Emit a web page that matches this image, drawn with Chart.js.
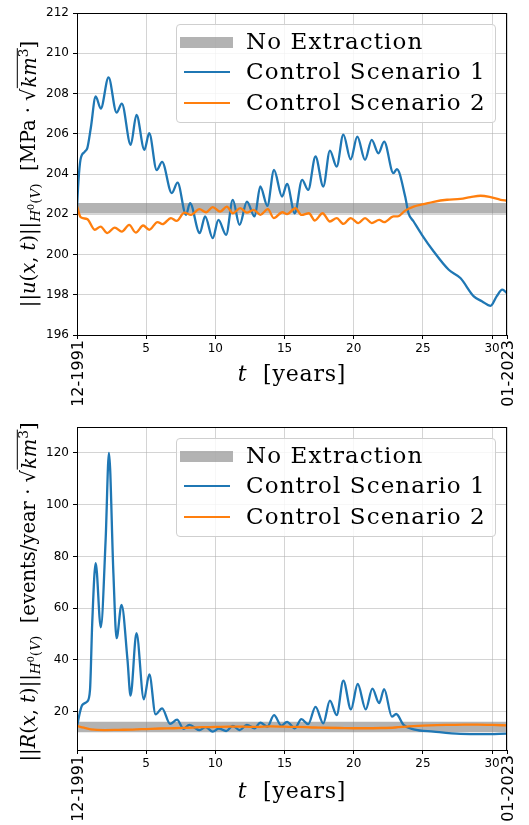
<!DOCTYPE html>
<html><head><meta charset="utf-8">
<script src="https://cdn.jsdelivr.net/npm/chart.js@4.4.0/dist/chart.umd.min.js"></script>
<style>
html,body{margin:0;padding:0;background:#fff;}
#wrap{position:relative;width:529px;height:825px;overflow:hidden;font-family:"DejaVu Serif",serif;}
.pane{position:absolute;left:0;width:529px;}
.legend{position:absolute;left:176px;width:320px;height:99px;border:1px solid #cfcfcf;border-radius:4px;background:rgba(255,255,255,0.8);box-sizing:border-box;}
.lrow{position:absolute;left:0;height:30px;width:100%;}
.lsym{position:absolute;}
.ltxt{position:absolute;left:69px;top:-1px;font-size:23px;line-height:30px;color:#000;white-space:nowrap;letter-spacing:1.1px;}
.ytitle{position:absolute;white-space:nowrap;font-size:19.5px;color:#000;transform:translate(-50%,-50%) rotate(-90deg);}
.xtitle{position:absolute;white-space:nowrap;font-size:22px;color:#000;transform:translate(-50%,-50%);letter-spacing:0.8px;}
.sqrt{border-top:1.2px solid #000;padding-left:1px;}
sub,sup{font-size:70%;}
</style>
</head><body>
<div id="wrap">
  <div class="pane" style="top:0;height:410px;"><canvas id="c1"></canvas></div>
  <div class="pane" style="top:410px;height:415px;"><canvas id="c2"></canvas></div>

  <div class="ytitle" style="left:29px;top:174px;">||<i>u</i>(<i>x</i>, <i>t</i>)||<sub><i>H</i><sup>0</sup>(<i>V</i>)</sub>&nbsp;&nbsp;[MPa · √<span class="sqrt"><i>km</i><sup>3</sup></span>]</div>
  <div class="ytitle" style="left:29px;top:592px;">||<i>R</i>(<i>x</i>, <i>t</i>)||<sub><i>H</i><sup>0</sup>(<i>V</i>)</sub>&nbsp;&nbsp;[events/year · √<span class="sqrt"><i>km</i><sup>3</sup></span>]</div>
  <div class="xtitle" style="left:292px;top:373px;"><i>t</i>&nbsp;&nbsp;[years]</div>
  <div class="xtitle" style="left:292px;top:790px;"><i>t</i>&nbsp;&nbsp;[years]</div>

  <div class="legend" style="top:24px;">
    <div class="lrow" style="top:2px;"><div class="lsym" style="left:3px;top:10px;width:53px;height:10.5px;background:rgba(128,128,128,0.6);"></div><div class="ltxt">No Extraction</div></div>
    <div class="lrow" style="top:32px;"><div class="lsym" style="left:7px;top:14px;width:46px;height:2.3px;background:#1f77b4;"></div><div class="ltxt">Control Scenario 1</div></div>
    <div class="lrow" style="top:62.5px;"><div class="lsym" style="left:7px;top:14px;width:46px;height:2.3px;background:#ff7f0e;"></div><div class="ltxt">Control Scenario 2</div></div>
  </div>
  <div class="legend" style="top:438px;">
    <div class="lrow" style="top:2px;"><div class="lsym" style="left:3px;top:10px;width:53px;height:10.5px;background:rgba(128,128,128,0.6);"></div><div class="ltxt">No Extraction</div></div>
    <div class="lrow" style="top:32px;"><div class="lsym" style="left:7px;top:14px;width:46px;height:2.3px;background:#1f77b4;"></div><div class="ltxt">Control Scenario 1</div></div>
    <div class="lrow" style="top:62.5px;"><div class="lsym" style="left:7px;top:14px;width:46px;height:2.3px;background:#ff7f0e;"></div><div class="ltxt">Control Scenario 2</div></div>
  </div>
</div>
<script>
// ---------- data ----------
const T_END = 31.08;
const X_TICKS = [0, 5, 10, 15, 20, 25, 30, T_END];
const DATE_LABELS = ["12-1991", "01-2023"];

// top panel: ||u(x,t)||
const TOP_Y_TICKS = [196, 198, 200, 202, 204, 206, 208, 210, 212];
const TOP_BAND = 202.3;
const topBlueT = [0,0.1,0.25,0.55,0.75,1.0,1.35,1.72,2.28,2.86,3.24,3.88,4.3,4.87,5.22,5.76,6.15,6.85,7.27,7.88,8.17,8.87,9.26,9.81,10.22,10.78,11.26,11.75,12.28,12.84,13.25,13.76,14.24,14.82,15.18,15.74,16.27,16.71,17.24,17.8,18.28,18.77,19.25,19.78,20.26,20.82,21.3,21.79,22.2,22.87,23.12,23.72,23.96,24.33,24.93,25.78,26.87,27.71,28.68,29.29,29.89,30.33,30.74,31.08];
const topBlueV = [202.3,203.6,204.7,205.1,205.3,206.3,207.85,207.25,208.8,207.05,207.5,205.45,206.94,205.2,206.03,204.2,204.6,203.05,203.57,201.97,202.55,201.06,201.89,200.81,201.72,200.98,202.71,201.47,202.63,201.89,203.38,202.42,204.2,202.88,203.51,202.05,203.71,203.21,204.87,203.38,205.16,204.37,205.96,204.73,205.86,204.7,205.7,205.03,205.61,204.04,204.24,202.88,202.05,201.64,200.98,200.15,199.24,198.83,197.92,197.67,197.45,197.92,198.25,198.08];
const topOrangeT = [0,0.26,0.74,1.28,1.71,2.19,2.73,3.24,3.77,4.25,4.78,5.22,5.82,6.18,6.79,7.2,7.76,8.24,8.85,9.33,9.81,10.35,10.83,11.26,11.8,12.28,12.77,13.25,13.8,14.22,14.85,15.18,15.79,16.23,16.76,17.19,17.75,18.28,18.77,19.25,19.78,20.34,20.82,21.3,21.84,22.2,22.88,23.17,23.72,24.33,25.05,25.78,26.75,27.71,28.44,29.17,29.89,30.62,31.08];
const topOrangeV = [202.4,201.86,201.76,201.23,201.39,201.06,201.34,201.14,201.47,201.09,201.44,201.23,201.61,201.51,201.81,201.67,202.08,201.97,202.25,202.1,202.35,202.13,202.38,202.05,202.3,202.08,202.22,201.97,202.25,201.81,202.1,202.01,202.3,201.97,202.05,201.69,202.05,201.64,201.81,201.52,201.81,201.56,201.81,201.56,201.72,201.61,201.89,201.89,202.18,202.38,202.5,202.62,202.72,202.76,202.85,202.92,202.85,202.72,202.68];

// bottom panel: ||R(x,t)||
const BOT_Y_TICKS = [20, 40, 60, 80, 100, 120];
const BOT_BAND = 14.1;
const botBlueT = [0,0.2,0.38,0.74,0.94,1.1,1.35,1.72,2.07,2.31,2.63,2.86,3.22,3.65,3.87,4.3,4.83,5.23,5.68,6.15,6.73,7.23,7.7,8.12,8.85,9.3,9.81,10.25,10.78,11.26,11.75,12.28,12.84,13.25,13.76,14.24,14.77,15.18,15.74,16.22,16.71,17.24,17.8,18.28,18.77,19.25,19.8,20.29,20.87,21.35,21.84,22.2,22.76,23.07,23.6,24.33,25.78,27.71,29.4,31.08];
const botBlueV = [14.2,19.5,22.6,23.9,28.4,54.2,77.4,52.6,86.5,120,73.6,48.4,61.3,40,26.2,50.3,24.8,34.4,19,21.3,15.3,16.9,13.4,14.9,12.9,14,12.3,13.5,12.5,14.5,12.9,14.9,13.6,15.8,14.2,18.7,14.6,16.1,13.6,17.1,15.2,21.9,15.5,24.3,18.7,32,20.9,30.7,20.9,28.9,23.3,28.7,18.1,19.1,14.9,13.2,12.3,11.4,11.3,11.5];
const botOrangeT = [0,0.5,1,2,3,4,5,6,7,8,9,10,11,12,13,14,15,16,17,18,19,20,21,22,23,24,25,26,27,28,29,30,31.08];
const botOrangeV = [14.5,13.8,13.2,12.9,13.0,13.1,13.3,13.5,13.6,13.8,14.0,14.1,14.2,14.2,14.1,14.3,14.2,14.1,13.9,13.8,13.7,13.6,13.6,13.7,13.9,14.3,14.6,14.8,14.9,15.0,15.0,14.9,14.7];

// ---------- chart helpers ----------
const BLUE = '#1f77b4', ORANGE = '#ff7f0e', BAND = 'rgba(128,128,128,0.6)';
const pts = (ts, vs) => ts.map((t, i) => ({x: t, y: vs[i]}));

const framePlugin = {
  id: 'frame',
  afterDraw(chart) {
    const {ctx, chartArea: a} = chart;
    ctx.save();
    ctx.strokeStyle = '#000';
    ctx.lineWidth = 1;
    ctx.strokeRect(a.left + 0.5, a.top + 0.5, a.right - a.left - 1, a.bottom - a.top);
    // rotated date labels at the ends of the time axis
    const xs = chart.scales.x;
    ctx.fillStyle = '#000';
    ctx.font = '16px "DejaVu Sans"';
    ctx.textAlign = 'right';
    ctx.textBaseline = 'middle';
    [[0, DATE_LABELS[0]], [T_END, DATE_LABELS[1]]].forEach(([v, lab]) => {
      const px = xs.getPixelForValue(v);
      ctx.save();
      ctx.translate(px + 1.5, a.bottom + 5);
      ctx.rotate(-Math.PI / 2);
      ctx.fillText(lab, 0, 0);
      ctx.restore();
    });
    ctx.restore();
  }
};

function makeChart(id, o) {
  return new Chart(document.getElementById(id), {
    type: 'line',
    data: {
      datasets: [
        {label: 'No Extraction', data: [{x: 0, y: o.band}, {x: T_END, y: o.band}], borderColor: BAND, borderWidth: 10.6, pointRadius: 0, order: 3, clip: 0, borderCapStyle: 'butt'},
        {label: 'Control Scenario 1', data: pts(o.bt, o.bv), borderColor: BLUE, borderWidth: 2.3, pointRadius: 0, cubicInterpolationMode: 'monotone', order: 2, clip: 0},
        {label: 'Control Scenario 2', data: pts(o.ot, o.ov), borderColor: ORANGE, borderWidth: 2.3, pointRadius: 0, cubicInterpolationMode: 'monotone', order: 1, clip: 0}
      ]
    },
    options: {
      responsive: true, maintainAspectRatio: false, animation: false, devicePixelRatio: 1,
      layout: {padding: {left: 0, right: 22, top: o.padTop, bottom: 0}},
      plugins: {legend: {display: false}, tooltip: {enabled: false}},
      scales: {
        x: {
          type: 'linear', min: 0, max: T_END,
          afterBuildTicks: s => { s.ticks = X_TICKS.map(v => ({value: v})); },
          afterFit: s => { s.height = 75; },
          ticks: {autoSkip: false, maxRotation: 0, minRotation: 0, padding: 3, color: '#000',
                  font: {family: 'DejaVu Sans', size: 12},
                  callback: v => (v === 0 || v === T_END) ? '' : String(v)},
          grid: {color: 'rgba(176,176,176,0.55)', lineWidth: 1, tickColor: '#000', tickLength: 4, drawTicks: true},
          border: {display: false}
        },
        y: {
          type: 'linear', min: o.yMin, max: o.yMax,
          afterBuildTicks: s => { s.ticks = o.yTicks.map(v => ({value: v})); },
          afterFit: s => { s.width = 77; },
          ticks: {padding: 4, color: '#000', font: {family: 'DejaVu Sans', size: 12}, callback: v => String(v)},
          grid: {color: 'rgba(176,176,176,0.55)', lineWidth: 1, tickColor: '#000', tickLength: 4, drawTicks: true},
          border: {display: false}
        }
      }
    },
    plugins: [framePlugin]
  });
}

makeChart('c1', {band: TOP_BAND, bt: topBlueT, bv: topBlueV, ot: topOrangeT, ov: topOrangeV,
  yMin: 196, yMax: 212, yTicks: TOP_Y_TICKS, padTop: 13});
makeChart('c2', {band: BOT_BAND, bt: botBlueT, bv: botBlueV, ot: botOrangeT, ov: botOrangeV,
  yMin: 5.2, yMax: 130, yTicks: BOT_Y_TICKS, padTop: 17});
</script>
</body></html>
